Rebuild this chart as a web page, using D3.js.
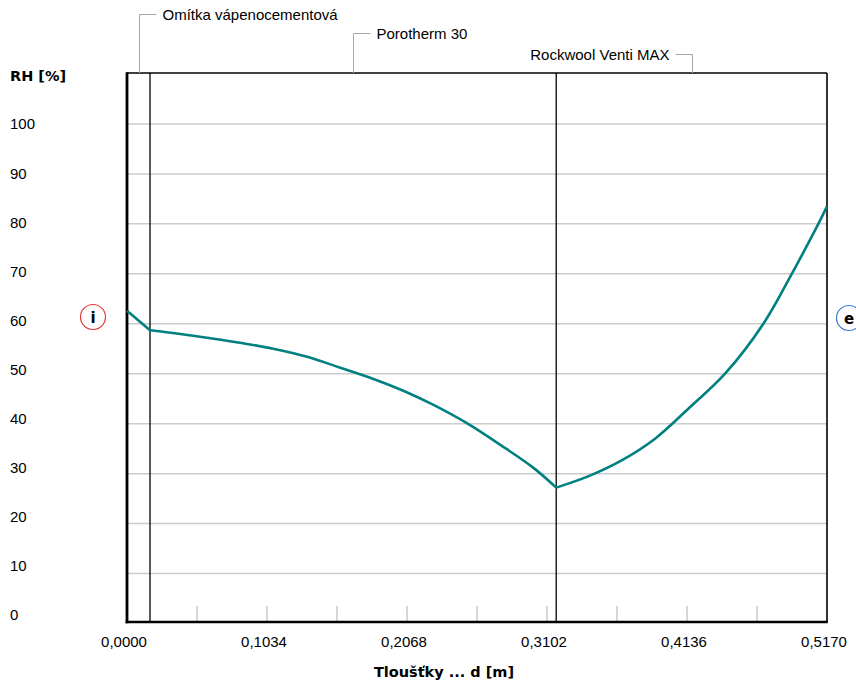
<!DOCTYPE html>
<html>
<head>
<meta charset="utf-8">
<script src="https://cdn.jsdelivr.net/npm/d3@7"></script>
<style>
  html, body { margin: 0; padding: 0; background: #ffffff; }
  svg { display: block; }
  text { font-family: "Liberation Sans", Arial, sans-serif; fill: #000; }
  text.bold { font-family: "DejaVu Sans", "Liberation Sans", sans-serif; font-weight: bold; }
</style>
</head>
<body>
<svg id="chart" width="856" height="686"></svg>
<script>
// Layer composition of the wall (from interior to exterior)
const layerNames = ["Omítka vápenocementová", "Porotherm 30", "Rockwool Venti MAX"];
const layerBounds = [0, 0.017, 0.317, 0.517];

// Relative humidity profile through the wall
const thickness = [0, 0.017, 0.034, 0.059, 0.0835, 0.108, 0.133, 0.157, 0.182, 0.2066,
                   0.226, 0.251, 0.2755, 0.300, 0.317,
                   0.341, 0.365, 0.390, 0.4146, 0.4417, 0.470, 0.491, 0.5106, 0.517];
const rh = [62.6, 58.7, 58.15, 57.2, 56.2, 55.0, 53.4, 51.25, 48.95, 46.3,
            43.8, 40.1, 35.8, 31.2, 27.2,
            29.5, 32.6, 37.0, 43.0, 50.0, 60.0, 70.0, 80.0, 83.5];

// Axis ticks
const xTickLabels = ["0,0000", "0,1034", "0,2068", "0,3102", "0,4136", "0,5170"];
const xTickValues = [0, 0.1034, 0.2068, 0.3102, 0.4136, 0.5170];
const xMinorTicks = d3.range(1, 10).map(i => i * 0.0517);
const yTickValues = [0, 10, 20, 30, 40, 50, 60, 70, 80, 90, 100];

const svg = d3.select("#chart");

const x = d3.scaleLinear().domain([0, 0.517]).range([127, 827]);
const y = d3.scaleLinear().domain([0, 110]).range([623.5, 74]);
// label column uses its own slightly tighter spacing
const yLabel = d3.scaleLinear().domain([0, 100]).range([615, 124]);

const plotTop = 73, plotBottom = 622;

// horizontal grid
svg.append("g").selectAll("line")
  .data(yTickValues.filter(v => v > 0))
  .join("line")
  .attr("x1", x(0)).attr("x2", x(0.517))
  .attr("y1", d => y(d)).attr("y2", d => y(d))
  .attr("stroke", "#cccccc").attr("stroke-width", 1.5);

// minor ticks along the bottom
svg.append("g").selectAll("line")
  .data(xMinorTicks)
  .join("line")
  .attr("x1", d => x(d)).attr("x2", d => x(d))
  .attr("y1", plotBottom - 16).attr("y2", plotBottom)
  .attr("stroke", "#c8c8c8").attr("stroke-width", 1.5);

// layer boundaries
svg.append("g").selectAll("line")
  .data(layerBounds.slice(1, -1))
  .join("line")
  .attr("x1", d => x(d)).attr("x2", d => x(d))
  .attr("y1", plotTop).attr("y2", plotBottom)
  .attr("stroke", "#000").attr("stroke-width", 1.3);

// frame
svg.append("line").attr("x1", x(0)).attr("x2", x(0.517)).attr("y1", plotTop).attr("y2", plotTop)
  .attr("stroke", "#000").attr("stroke-width", 1.5);
svg.append("line").attr("x1", x(0.517)).attr("x2", x(0.517)).attr("y1", plotTop).attr("y2", plotBottom)
  .attr("stroke", "#000").attr("stroke-width", 1.6);
svg.append("line").attr("x1", x(0)).attr("x2", x(0)).attr("y1", plotTop - 0.7).attr("y2", plotBottom + 1.3)
  .attr("stroke", "#000").attr("stroke-width", 2.8);
svg.append("line").attr("x1", x(0) - 1.4).attr("x2", x(0.517) + 0.8).attr("y1", plotBottom).attr("y2", plotBottom)
  .attr("stroke", "#000").attr("stroke-width", 2.6);

// humidity curve, drawn layer by layer so the joints stay sharp
const pts = thickness.map((t, i) => [t, rh[i]]);
const line = d3.line().x(d => x(d[0])).y(d => y(d[1])).curve(d3.curveCatmullRom.alpha(0.5));
const eps = 1e-9;
for (let k = 0; k < layerBounds.length - 1; k++) {
  const seg = pts.filter(p => p[0] >= layerBounds[k] - eps && p[0] <= layerBounds[k + 1] + eps);
  svg.append("path").datum(seg)
    .attr("d", line)
    .attr("fill", "none")
    .attr("stroke", "#00807f")
    .attr("stroke-width", 2.6)
    .attr("stroke-linejoin", "round");
}

// y tick labels
svg.append("g").selectAll("text")
  .data(yTickValues)
  .join("text")
  .attr("x", 10)
  .attr("y", d => yLabel(d))
  .attr("dy", "0.36em")
  .attr("font-size", 15)
  .text(d => d);

svg.append("text").attr("class", "bold").attr("x", 10).attr("y", 81)
  .attr("font-size", 14.5).text("RH [%]");

// x tick labels
svg.append("g").selectAll("text")
  .data(xTickValues)
  .join("text")
  .attr("x", d => x(d) - 3)
  .attr("y", 647)
  .attr("text-anchor", "middle")
  .attr("font-size", 15)
  .text((d, i) => xTickLabels[i]);

svg.append("text").attr("class", "bold").attr("x", 444).attr("y", 677)
  .attr("text-anchor", "middle")
  .attr("font-size", 14.5)
  .text("Tloušťky ... d [m]");

// layer name callouts
const calloutY = [14, 33, 54];
const calloutSide = ["right", "right", "left"];
layerNames.forEach((name, k) => {
  const cx = Math.round(x((layerBounds[k] + layerBounds[k + 1]) / 2)) + 0.5;
  const cy = calloutY[k] + 0.5;
  const dir = calloutSide[k] === "right" ? 1 : -1;
  const g = svg.append("g");
  g.append("path")
    .attr("d", `M${cx},${plotTop}V${cy}H${cx + dir * 17}`)
    .attr("fill", "none").attr("stroke", "#a8a8a8").attr("stroke-width", 1);
  g.append("text")
    .attr("x", cx + dir * 23)
    .attr("y", cy)
    .attr("dy", "0.36em")
    .attr("text-anchor", dir > 0 ? "start" : "end")
    .attr("font-size", 15)
    .text(name);
});

// interior / exterior markers
const markers = [
  { label: "i", cx: 93, cy: 317, color: "#e8383a" },
  { label: "e", cx: 849, cy: 318, color: "#3a7ac8" }
];
markers.forEach(m => {
  svg.append("circle").attr("cx", m.cx).attr("cy", m.cy).attr("r", 12.5)
    .attr("fill", "none").attr("stroke", m.color).attr("stroke-width", 1.2);
  svg.append("text").attr("class", "bold").attr("x", m.cx).attr("y", m.cy).attr("dy", "0.38em")
    .attr("text-anchor", "middle").attr("font-size", 15)
    .text(m.label);
});
</script>
</body>
</html>
